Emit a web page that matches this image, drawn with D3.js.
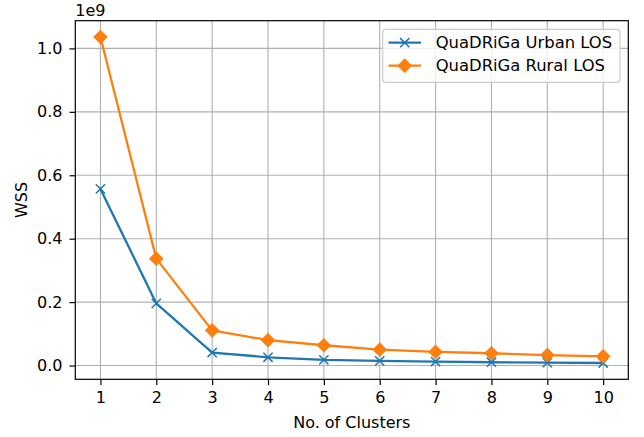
<!DOCTYPE html>
<html><head><meta charset="utf-8">
<script src="https://cdn.jsdelivr.net/npm/d3@7"></script>
<style>
body{margin:0;background:#fff;}
svg{display:block;font-family:"DejaVu Sans",sans-serif;}
</style></head>
<body><svg id="c" width="644" height="437"></svg>
<script>
const clusters = [1,2,3,4,5,6,7,8,9,10];
const urbanWSS = [0.557,0.196,0.041,0.026,0.018,0.0145,0.0126,0.0104,0.0094,0.008];
const ruralWSS = [1.036,0.337,0.111,0.080,0.064,0.050,0.043,0.0387,0.033,0.029];
const yTicks = [0.0,0.2,0.4,0.6,0.8,1.0];
const seriesNames = ["QuaDRiGa Urban LOS","QuaDRiGa Rural LOS"];
const colors = ["#1f77b4","#ff7f0e"];
const FS = "16px";
const LFS = "16.4px";

const svg = d3.select("#c");
const L=75.3,R=628.3,T=20.7,B=379.3;
const allV = urbanWSS.concat(ruralWSS);
const ymin=d3.min(allV), ymax=d3.max(allV), yr=ymax-ymin;
const x = d3.scaleLinear().domain([0.55,10.45]).range([L,R]);
const y = d3.scaleLinear().domain([ymin-0.05*yr, ymax+0.05*yr]).range([B,T]);

const g = svg.append("g");
g.selectAll(".gx").data(clusters).enter().append("line")
 .attr("x1",d=>x(d)).attr("x2",d=>x(d)).attr("y1",T).attr("y2",B)
 .attr("stroke","#b0b0b0").attr("stroke-width",1.1);
g.selectAll(".gy").data(yTicks).enter().append("line")
 .attr("y1",d=>y(d)).attr("y2",d=>y(d)).attr("x1",L).attr("x2",R)
 .attr("stroke","#b0b0b0").attr("stroke-width",1.1);

const xAxis = d3.axisBottom(x).tickValues(clusters).tickFormat(d3.format("d")).tickSize(5.8).tickPadding(6.5);
const yAxis = d3.axisLeft(y).tickValues(yTicks).tickFormat(d3.format(".1f")).tickSize(5.8).tickPadding(7);
const ax = svg.append("g").attr("transform",`translate(0,${B})`).call(xAxis);
const ay = svg.append("g").attr("transform",`translate(${L},0)`).call(yAxis);
[ax,ay].forEach(a=>{
  a.select(".domain").remove();
  a.selectAll("line").attr("stroke","#000").attr("stroke-width",1.2);
  a.selectAll("text").attr("fill","#000").style("font-size",FS).style("font-family","DejaVu Sans");
});
ax.selectAll("text").attr("dy","0.71em");

const line = d3.line().x((d,i)=>x(clusters[i])).y(d=>y(d));
[urbanWSS,ruralWSS].forEach((s,k)=>{
  svg.append("path").datum(s).attr("d",line).attr("fill","none")
    .attr("stroke",colors[k]).attr("stroke-width",2.3).attr("stroke-linejoin","round");
});
const xm = 4.6;
svg.selectAll(".mx").data(urbanWSS).enter().append("path")
  .attr("d",(d,i)=>{const cx=x(clusters[i]),cy=y(d);return `M${cx-xm},${cy-xm}L${cx+xm},${cy+xm}M${cx-xm},${cy+xm}L${cx+xm},${cy-xm}`;})
  .attr("stroke",colors[0]).attr("stroke-width",1.5).attr("fill","none");
const dm = 6.3;
svg.selectAll(".md").data(ruralWSS).enter().append("path")
  .attr("d",(d,i)=>{const cx=x(clusters[i]),cy=y(d);return `M${cx},${cy-dm}L${cx+dm},${cy}L${cx},${cy+dm}L${cx-dm},${cy}Z`;})
  .attr("fill",colors[1]).attr("stroke",colors[1]).attr("stroke-width",1.5).attr("stroke-linejoin","miter");

svg.append("rect").attr("x",L).attr("y",T).attr("width",R-L).attr("height",B-T)
  .attr("fill","none").attr("stroke","#000").attr("stroke-width",1.2);

svg.append("text").attr("x",L).attr("y",T-5).text("1e9").style("font-size",FS);
svg.append("text").attr("x",(L+R)/2).attr("y",427.5).attr("text-anchor","middle").text("No. of Clusters").style("font-size",FS);
svg.append("text").attr("transform",`translate(26.5,${(T+B)/2}) rotate(-90)`).attr("text-anchor","middle").text("WSS").style("font-size",FS);

const lg = svg.append("g");
lg.append("rect").attr("x",382.7).attr("y",29.3).attr("width",237.3).attr("height",53).attr("rx",3)
  .attr("fill","#fff").attr("fill-opacity",0.8).attr("stroke","#cccccc").attr("stroke-width",1.2);
const rowsY=[42.7,65.7];
seriesNames.forEach((n,k)=>{
  const yy=rowsY[k];
  lg.append("line").attr("x1",388.5).attr("x2",421).attr("y1",yy).attr("y2",yy).attr("stroke",colors[k]).attr("stroke-width",2.3);
  const cx=404.7;
  if(k===0){
    lg.append("path").attr("d",`M${cx-xm},${yy-xm}L${cx+xm},${yy+xm}M${cx-xm},${yy+xm}L${cx+xm},${yy-xm}`).attr("stroke",colors[0]).attr("stroke-width",1.5);
  } else {
    lg.append("path").attr("d",`M${cx},${yy-dm}L${cx+dm},${yy}L${cx},${yy+dm}L${cx-dm},${yy}Z`).attr("fill",colors[1]).attr("stroke",colors[1]).attr("stroke-width",1.5);
  }
  lg.append("text").attr("x",435.7).attr("y",yy).attr("dy","0.35em").text(n).style("font-size",LFS);
});
</script></body></html>
